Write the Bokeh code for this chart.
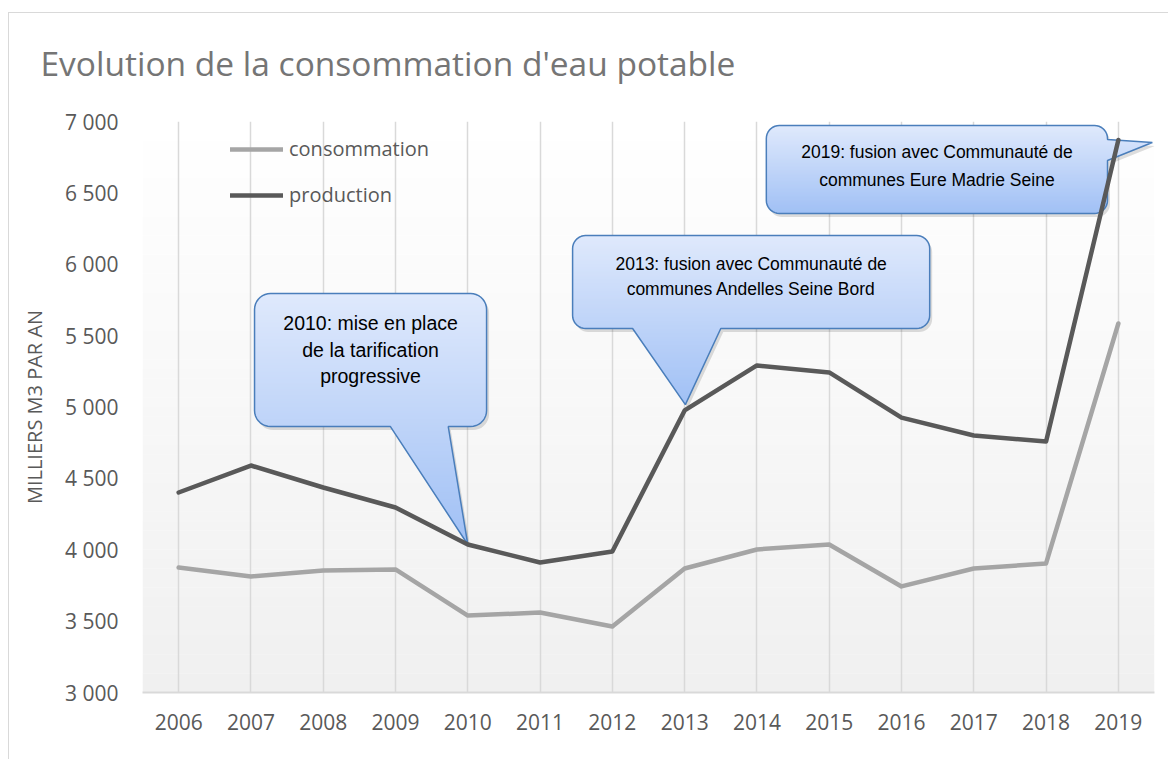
import numpy as np
from bokeh.plotting import figure
from bokeh.models import Range1d, FixedTicker, Legend, LegendItem
from bokeh.core.properties import value
from bokeh.embed import file_html
from bokeh.resources import INLINE

# ---------------- data ----------------
years = [2006, 2007, 2008, 2009, 2010, 2011, 2012, 2013, 2014, 2015, 2016, 2017, 2018, 2019]
consommation = [3876, 3813, 3855, 3862, 3539, 3560, 3462, 3869, 4002, 4037, 3743, 3869, 3904, 5585]
production = [4401, 4590, 4436, 4296, 4037, 3911, 3988, 4976, 5291, 5242, 4926, 4800, 4758, 6870]
y_ticks = [3000, 3500, 4000, 4500, 5000, 5500, 6000, 6500, 7000]
y_tick_labels = ["3 000", "3 500", "4 000", "4 500", "5 000", "5 500", "6 000", "6 500", "7 000"]
title_text = "Evolution de la consommation d'eau potable"
y_axis_label = "MILLIERS M3 PAR AN"
series_names = ["consommation", "production"]

# callout annotations (data coordinates)
callouts = [
    dict(lines=["2010: mise en place", "de la tarification", "progressive"],
         box=(2007.05, 2010.26, 4863, 5795), edge="bottom", base=(2008.93, 2009.73),
         tip=(2010, 4037), baselines=[5585, 5396, 5214], size="19.5px", radius=16),
    dict(lines=["2013: fusion avec Communauté de", "communes Andelles Seine Bord"],
         box=(2011.45, 2016.39, 5550, 6201), edge="bottom", base=(2012.28, 2013.50),
         tip=(2013.01, 5017), baselines=[6005, 5830], size="17.5px", radius=13),
    dict(lines=["2019: fusion avec Communauté de", "communes Eure Madrie Seine"],
         box=(2014.13, 2018.85, 6356, 6972), edge="right", base=(6727, 6874),
         tip=(2019.47, 6853), baselines=[6783, 6587], size="17.5px", radius=13),
]

# ---------------- geometry ----------------
W, H = 1168, 759
ML, MR, MT, MB = 142, 14, 121, 67
FW, FH = W - ML - MR, H - MT - MB
X0, X1 = 2005.5, 2019.5
Y0, Y1 = 3000, 7000
sx = FW / (X1 - X0)
sy = FH / (Y1 - Y0)

FONT = "Open Sans"
TXT = "#595959"

p = figure(width=W, height=H, output_backend="svg", toolbar_location=None,
           x_range=Range1d(X0, X1), y_range=Range1d(Y0, Y1),
           min_border_left=ML, min_border_right=MR, min_border_top=MT, min_border_bottom=MB)
p.outline_line_color = None
p.background_fill_color = "white"
p.border_fill_color = None
p.border_fill_alpha = 0
# thin light-grey chart border (left and top edges)
p.styles = {"box-shadow": "inset 8px 12px 0 0 #ffffff, inset 9px 13px 0 0 #d9d9d9",
            "background-color": "#ffffff"}

# title
p.title.text = title_text
p.title.text_font = FONT
p.title.text_font_size = "33.5px"
p.title.text_font_style = "normal"
p.title.text_color = "#757575"
p.title.align = "left"
p.title.offset = -102
p.title.standoff = 71

# gradient plot-area background
nb = 60
edges = np.linspace(Y0, Y1, nb + 1)
cols = []
for i in range(nb):
    t = (i + 0.5) / nb  # 0 bottom -> 1 top
    c = int(round(240 + (255 - 240) * t))
    cols.append("#%02x%02x%02x" % (c, c, c))
bg = p.quad(left=[X0] * nb, right=[X1] * nb, bottom=list(edges[:-1]), top=list(edges[1:] + 2),
            fill_color=cols, line_color=None)
bg.level = "image"

# axes
p.xaxis.ticker = FixedTicker(ticks=years)
p.xaxis.major_label_text_font = FONT
p.xaxis.major_label_text_font_size = "21px"
p.xaxis.major_label_text_color = TXT
p.xaxis.major_tick_line_color = None
p.xaxis.minor_tick_line_color = None
p.xaxis.axis_line_color = "#d9d9d9"
p.xaxis.axis_line_width = 2
p.xaxis.major_label_standoff = 15

p.yaxis.ticker = FixedTicker(ticks=y_ticks)
p.yaxis.major_label_overrides = {t: l for t, l in zip(y_ticks, y_tick_labels)}
p.yaxis.major_label_text_font = FONT
p.yaxis.major_label_text_font_size = "21px"
p.yaxis.major_label_text_color = TXT
p.yaxis.major_tick_line_color = None
p.yaxis.minor_tick_line_color = None
p.yaxis.axis_line_color = None
p.yaxis.major_label_standoff = 18
p.yaxis.axis_label = y_axis_label
p.yaxis.axis_label_text_font = FONT
p.yaxis.axis_label_text_font_size = "20px"
p.yaxis.axis_label_text_font_style = "normal"
p.yaxis.axis_label_text_color = TXT
p.yaxis.axis_label_standoff = 14

p.xgrid.ticker = FixedTicker(ticks=years)
p.xgrid.grid_line_color = "#d9d9d9"
p.xgrid.grid_line_width = 1.5
p.ygrid.grid_line_color = None


# ---------------- callouts ----------------
def arc(cx, cy, r, a0, a1, n=10):
    a = np.radians(np.linspace(a0, a1, n))
    return list(zip(cx + r * np.cos(a), cy + r * np.sin(a)))


def clip(poly, yv, keep_above):
    out = []
    n = len(poly)
    for i in range(n):
        cur, prv = poly[i], poly[i - 1]
        ci = cur[1] >= yv if keep_above else cur[1] <= yv
        pi = prv[1] >= yv if keep_above else prv[1] <= yv
        if ci:
            if not pi:
                t = (yv - prv[1]) / (cur[1] - prv[1])
                out.append((prv[0] + t * (cur[0] - prv[0]), yv))
            out.append(cur)
        elif pi:
            t = (yv - prv[1]) / (cur[1] - prv[1])
            out.append((prv[0] + t * (cur[0] - prv[0]), yv))
    return out


def to_px(x, y):
    return (x - X0) * sx, (y - Y0) * sy


def to_data(px, py):
    return px / sx + X0, py / sy + Y0


top_col = np.array([223, 233, 252])
bot_col = np.array([160, 192, 245])

for c in callouts:
    l, r, b, t = c["box"]
    L, B = to_px(l, b)
    R, T = to_px(r, t)
    rad = c["radius"]
    tip = to_px(*c["tip"])
    pts = []
    pts += arc(L + rad, B + rad, rad, 180, 270)
    if c["edge"] == "bottom":
        ba = to_px(c["base"][0], b)[0]
        bb = to_px(c["base"][1], b)[0]
        pts += [(ba, B), tip, (bb, B)]
    pts += arc(R - rad, B + rad, rad, 270, 360)
    if c["edge"] == "right":
        ba = to_px(r, c["base"][0])[1]
        bb = to_px(r, c["base"][1])[1]
        pts += [(R, ba), tip, (R, bb)]
    pts += arc(R - rad, T - rad, rad, 0, 90)
    pts += arc(L + rad, T - rad, rad, 90, 180)

    # shadow
    sh = [to_data(x + 2.5, y - 3.5) for x, y in pts]
    p.patch([q[0] for q in sh], [q[1] for q in sh], fill_color="#000000", fill_alpha=0.13,
            line_color=None)

    ys_px = [q[1] for q in pts]
    ymin, ymax = min(ys_px), max(ys_px)
    nband = int((ymax - ymin) / 2) + 1
    bxs, bys, bcols = [], [], []
    for k in range(nband):
        lo = ymin + k * (ymax - ymin) / nband
        hi = ymin + (k + 1) * (ymax - ymin) / nband + 0.8
        poly = clip(clip(pts, lo, True), hi, False)
        if len(poly) < 3:
            continue
        d = [to_data(x, y) for x, y in poly]
        bxs.append([q[0] for q in d])
        bys.append([q[1] for q in d])
        f = ((lo + hi) / 2 - ymin) / (ymax - ymin)  # 0 bottom, 1 top
        col = bot_col + (top_col - bot_col) * f
        bcols.append("#%02x%02x%02x" % tuple(int(round(v)) for v in col))
    p.patches(bxs, bys, fill_color=bcols, line_color=None)

    od = [to_data(x, y) for x, y in pts]
    p.patch([q[0] for q in od], [q[1] for q in od], fill_color=None,
            line_color="#4a7ebb", line_width=1.5)

    xc = (l + r) / 2
    p.text(x=[xc] * len(c["lines"]), y=c["baselines"], text=c["lines"],
           text_align="center", text_baseline="alphabetic",
           text_font=value("Liberation Sans"),
           text_font_size=c["size"], text_color="#000000")

# ---------------- series ----------------
r1 = p.line(years, consommation, line_color="#a5a5a5", line_width=4.5,
            line_join="round", line_cap="round")
r2 = p.line(years, production, line_color="#595959", line_width=4.5,
            line_join="round", line_cap="round")

legend = Legend(items=[LegendItem(label=series_names[0], renderers=[r1]),
                       LegendItem(label=series_names[1], renderers=[r2])],
                location=(88, 484), orientation="vertical",
                glyph_width=53, glyph_height=20, label_height=20, spacing=19,
                padding=0, margin=0, border_line_color=None, background_fill_alpha=0,
                label_text_font=FONT, label_text_font_size="20px", label_text_color=TXT,
                label_standoff=6)
p.add_layout(legend)

open("out.html", "w").write(file_html(p, INLINE))
